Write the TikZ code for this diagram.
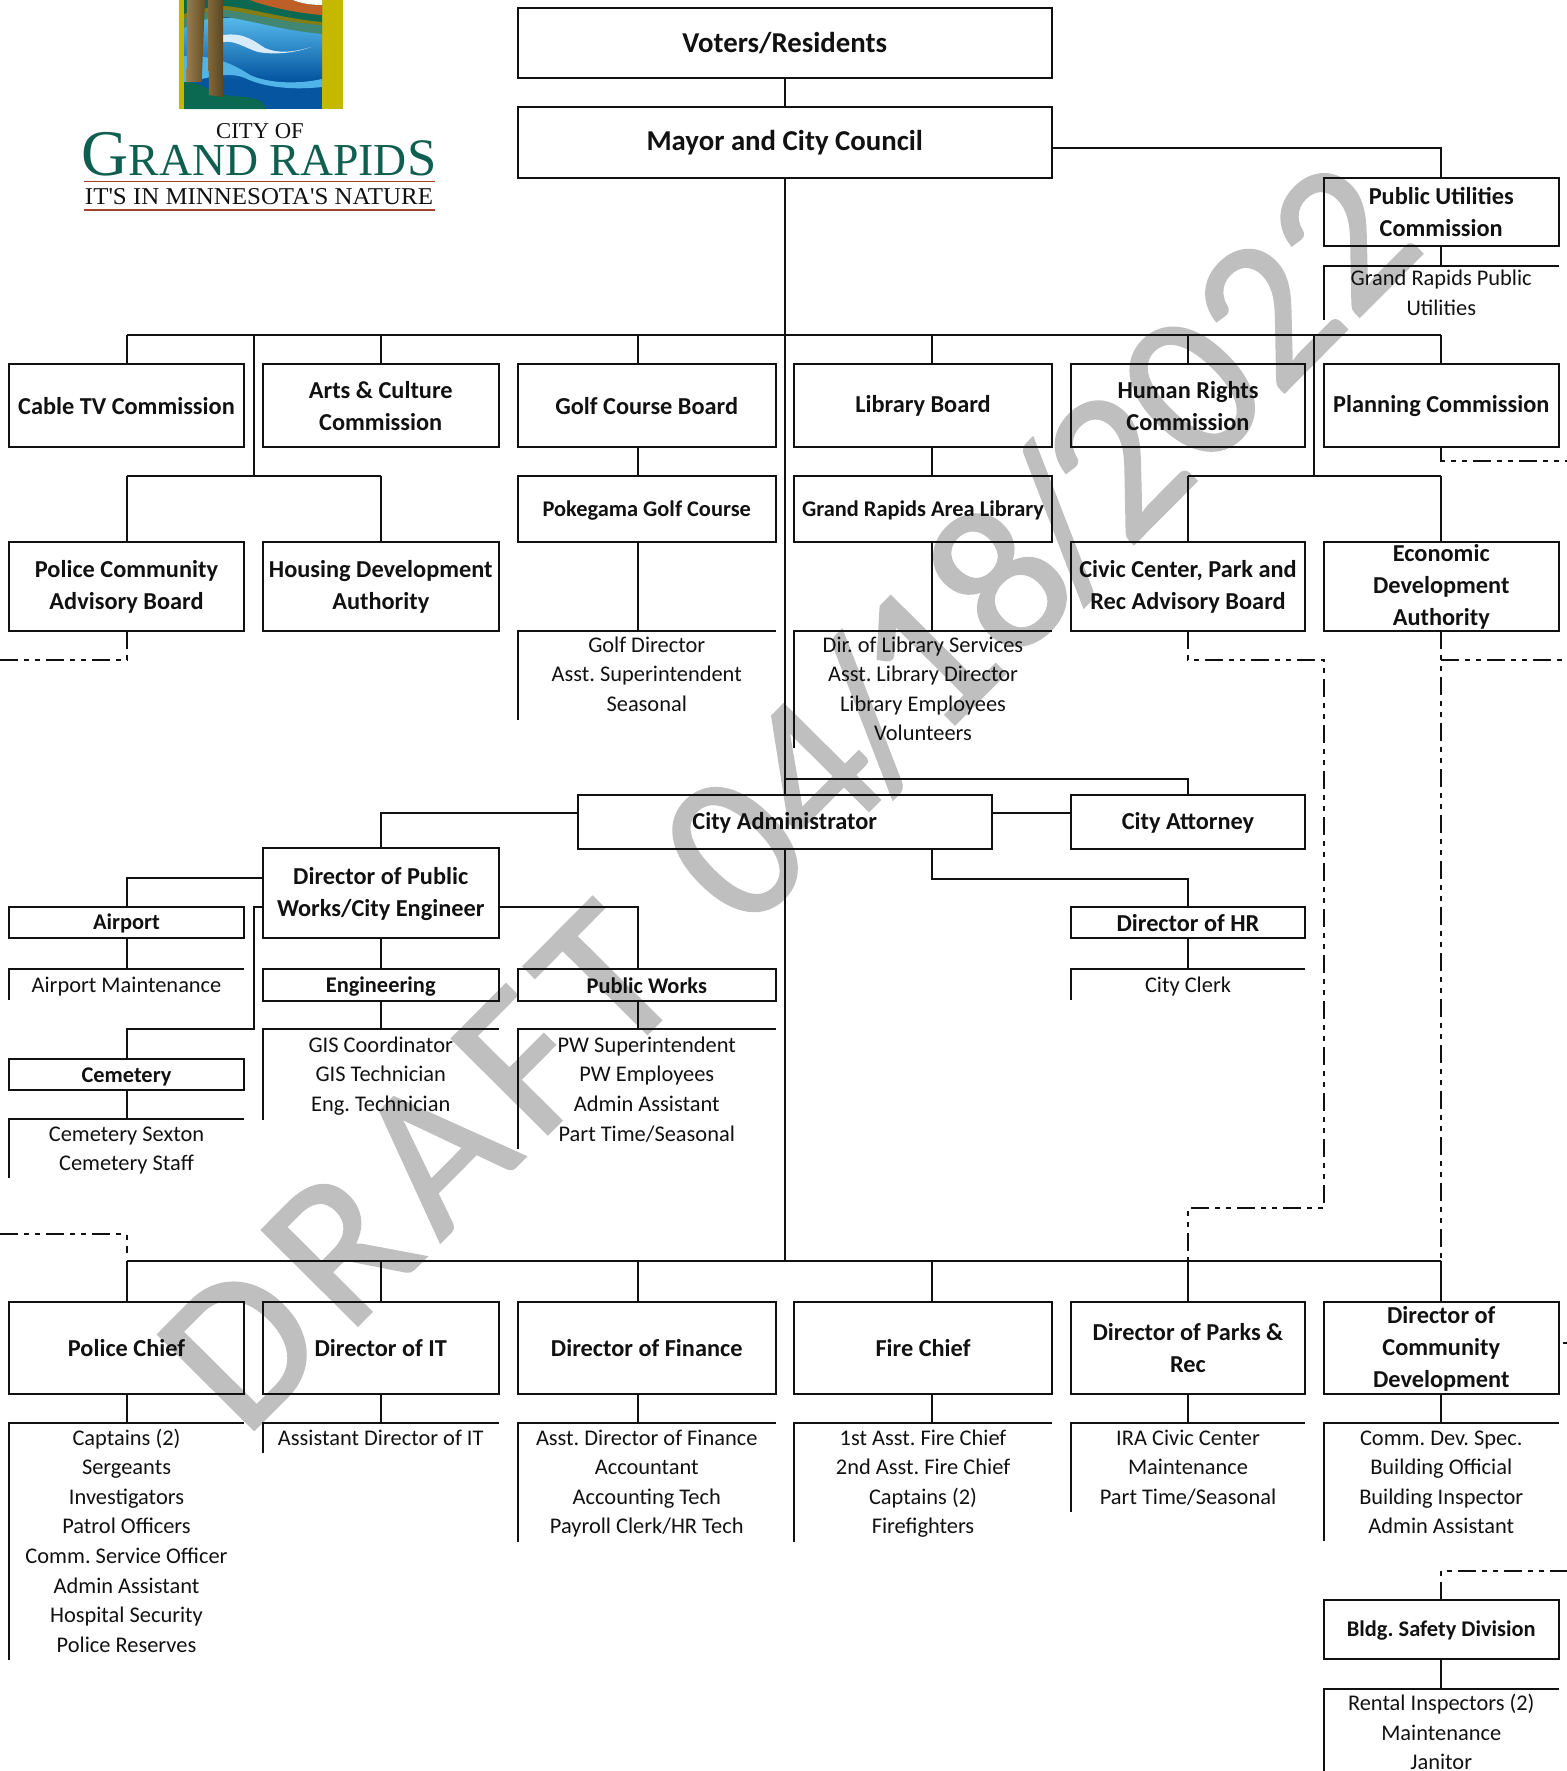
\documentclass[tikz,border=0pt]{standalone}
\usepackage{fontspec}
\usepackage{graphicx}
\setmainfont{Carlito}
\newfontfamily\logofont{Liberation Serif}
\newfontfamily\wmfont[FakeBold=1.2]{Carlito}
\definecolor{wm}{HTML}{BFBFBF}
\definecolor{ink}{HTML}{111111}
\definecolor{logoyel}{HTML}{C4B800}
\definecolor{logogrn}{HTML}{0A6950}
\definecolor{logotxt}{HTML}{0F5F50}
\definecolor{logored}{HTML}{A8402E}
\definecolor{waterhi}{HTML}{55B9EB}
\definecolor{waterlo}{HTML}{0555A0}
\definecolor{wavelt}{HTML}{50B4E8}
\definecolor{olive}{HTML}{827D14}
\definecolor{teal2}{HTML}{418773}
\definecolor{rust}{HTML}{BE5F28}
\definecolor{foam}{HTML}{D7EBF8}
\definecolor{barkA}{HTML}{967D50}
\definecolor{barkB}{HTML}{644E23}
\definecolor{barkC}{HTML}{82693C}
\definecolor{barkD}{HTML}{5A461E}
\newcommand{\bstr}{\vrule width 0pt height 14pt depth 1pt\relax}
\newcommand{\obox}[7][]{%
  \pgfmathsetmacro\bxw{(#5-#3)*.75}\pgfmathsetmacro\bxh{(#6-#4)*.75}%
  \node[orgb,minimum width=\bxw pt,minimum height=\bxh pt,#1] (#2) at ({(#3+#5)/2},{(#4+#6)/2}) {\bstr#7\bstr};%
}
\newcommand{\stoff}{21}
\newcommand{\staff}[6]{%
  \pgfmathsetmacro\bxw{(#4-#2)*.75}\pgfmathsetmacro\bxh{(#5-#3)*.75}%
  \node[staffframe,minimum width=\bxw pt,minimum height=\bxh pt] (#1) at ({(#2+#4)/2},{(#3+#5)/2}) {};%
  \draw[conn] (#1.north east) -- (#1.north west) -- (#1.south west);%
  \foreach \l [count=\i from 0] in {#6}{%
    \node[stafftext] (#1-\i) at ({(#2+#4)/2},{#3+\stoff+\i*29.6}) {\l};%
  }%
}
\tikzset{
  orgb/.style={draw=ink,line width=1.5pt,inner sep=0pt,outer sep=0pt,align=center,text=ink,
    font=\fontsize{18.25}{24}\selectfont\bfseries\frenchspacing},
  bigb/.style={font=\fontsize{21.6}{24}\selectfont\bfseries},
  smallb/.style={font=\fontsize{16.8}{24}\selectfont\bfseries\frenchspacing},
  staffframe/.style={inner sep=0pt,outer sep=0pt},
  stafftext/.style={anchor=base,inner sep=0pt,text=ink,font=\fontsize{16.8}{22}\selectfont\frenchspacing},
  conn/.style={draw=ink,line width=1.5pt},
  dashconn/.style={draw=ink,line width=1.5pt,dash pattern=on 13.5pt off 4.5pt on 3.75pt off 4.5pt on 3.75pt off 4.5pt},
}
\begin{document}
\begin{tikzpicture}[x=0.75pt,y=-0.75pt]
\useasboundingbox (0,0) rectangle (1567,1771);
% watermark
\node[rotate=45.2,anchor=base west,inner sep=0pt,text=wm,font=\wmfont\fontsize{158}{158}\selectfont] (draft) at (244,1440) {D\kern12.75pt R\kern12.75pt A\kern12.75pt F\kern12.75pt T\kern23pt\ 04\kern-9pt/\kern-9pt 18\kern-9pt/\kern-9pt 2022};
% logo
\fill[logoyel] (179,0) rectangle (343,109);
\fill[waterlo] (184,0) rectangle (322,109);
\shade[top color=waterhi,bottom color=waterlo] (184,18) rectangle (322,80);
\fill[logogrn] (184,0) -- (322,0) -- (322,23) .. controls (280,18) and (250,8) .. (225,7) .. controls (210,7) and (195,10) .. (184,14) -- cycle;
\fill[olive] (184,14) .. controls (195,10) and (210,7) .. (225,6) .. controls (250,8) and (280,18) .. (322,22) -- (322,26) .. controls (280,22) and (250,13) .. (225,11) .. controls (210,11) and (195,14) .. (184,19) -- cycle;
\fill[teal2] (184,19) .. controls (195,14) and (210,11) .. (225,10) .. controls (250,13) and (280,22) .. (322,25) -- (322,34) .. controls (280,30) and (250,20) .. (225,17) .. controls (210,17) and (195,22) .. (184,28) -- cycle;
\fill[rust] (250,0) .. controls (265,6) and (295,13) .. (322,15) -- (322,5) .. controls (310,5) and (300,3) .. (293,0) -- cycle;
\fill[white] (293,0) .. controls (300,3) and (310,5) .. (322,5) -- (322,0) -- cycle;
\fill[foam] (223,35) .. controls (245,32) and (255,42) .. (265,48) .. controls (278,54) and (295,52) .. (311,47) .. controls (295,53) and (275,55) .. (258,52) .. controls (245,48) and (235,40) .. (223,42) -- cycle;
\fill[wavelt] (184,56) .. controls (215,55) and (235,65) .. (250,75) .. controls (270,84) and (300,84) .. (322,79) -- (322,87) .. controls (295,90) and (265,88) .. (245,78) .. controls (225,70) and (205,80) .. (184,82) -- cycle;
\fill[logogrn] (184,82) .. controls (195,82) and (205,86) .. (212,92) .. controls (225,98) and (250,94) .. (262,102) -- (267,109) -- (184,109) -- cycle;
\shade[left color=barkA,right color=barkB] (187,0) -- (205,0) -- (201.7,82) -- (186.7,82) -- cycle;
\shade[left color=barkC,right color=barkD] (208,0) -- (223,0) -- (223,97) -- (209,95) -- cycle;
\node[anchor=base,inner sep=0pt,text=ink,font=\logofont\fontsize{17}{17}\selectfont] (logocity) at (260,138) {CITY OF};
\node[anchor=base,inner sep=0pt,text=logotxt,font=\logofont] (logogr) at (259,175) {\resizebox{266pt}{!}{\fontsize{47}{47}\selectfont G\fontsize{33}{33}\selectfont RAND RAPID\fontsize{38}{38}\selectfont S}};
\node[anchor=base,inner sep=0pt,text=ink,font=\logofont] (logotag) at (259,204) {\resizebox{261pt}{12pt}{\fontsize{17}{17}\selectfont IT'S IN MINNESOTA'S NATURE}};
\draw[logored,line width=1pt] (84,181.5) -- (435,181.5) (84,210) -- (435,210);
% junction coordinates
\coordinate (x1) at (126.5,0); \coordinate (x2) at (380.75,0); \coordinate (x3) at (638,0);
\coordinate (x0) at (784.75,0); \coordinate (x4) at (932,0); \coordinate (x5) at (1188,0);
\coordinate (x6) at (1441.25,0); \coordinate (xl) at (254,0); \coordinate (xr) at (1314,0); \coordinate (xd) at (1324,0); \coordinate (xe) at (1567,0); \coordinate (xs) at (0,0);
\coordinate (busTop) at (0,335); \coordinate (busMid) at (0,476); \coordinate (busBot) at (0,1261);
\coordinate (yPuc) at (0,148); \coordinate (yAtt) at (0,778.5); \coordinate (yAdm) at (0,813);
\coordinate (yAir) at (0,877.7); \coordinate (yHr) at (0,879); \coordinate (yPw) at (0,906.7); \coordinate (yCem) at (0,1029.3);
\coordinate (yDash) at (0,660); \coordinate (yPlan) at (0,461); \coordinate (yPark) at (0,1208); \coordinate (yPol) at (0,1234); \coordinate (yPolE) at (0,1253); \coordinate (yCd) at (0,1342.7); \coordinate (yBl) at (0,1570.7); \coordinate (xcd) at (1563,0);
% boxes
\obox[bigb]{voters}{517.5}{8}{1052}{78}{Voters/Residents}
\obox[bigb]{mayor}{517.5}{107}{1052}{177.5}{Mayor and City Council}
\obox{puc}{1323.5}{178}{1559}{246}{Public Utilities\\Commission}
\obox{cable}{9}{364}{244}{447}{Cable TV Commission}
\obox{arts}{263}{364}{498.5}{447}{Arts \& Culture\\Commission}
\obox{golf}{518}{364}{775.5}{447}{Golf Course Board}
\obox{lib}{794}{364}{1052}{447}{Library Board}
\obox{hrc}{1071}{364}{1305}{447}{Human Rights\\Commission}
\obox{plan}{1323.5}{364}{1559}{447}{Planning Commission}
\obox[smallb]{poke}{518}{476}{775.5}{542}{Pokegama Golf Course}
\obox[smallb]{grlib}{794}{476}{1052}{542}{Grand Rapids Area Library}
\obox{padv}{9}{542}{244}{631}{Police Community\\Advisory Board}
\obox{hous}{263}{542}{498.5}{631}{Housing Development\\Authority}
\obox{civic}{1071}{542}{1305}{631}{Civic Center, Park and\\Rec Advisory Board}
\obox{econ}{1323.5}{542}{1559}{631}{Economic\\Development\\Authority}
\obox{admin}{577.5}{795}{992}{848.5}{City Administrator}
\obox{atty}{1071}{795}{1305}{848.5}{City Attorney}
\obox{dpw}{263}{848}{498.5}{938}{Director of Public\\Works/City Engineer}
\obox[smallb]{airp}{9}{906.7}{244}{938}{Airport}
\obox[smallb]{eng}{263}{969}{498.5}{1000.5}{Engineering}
\obox[smallb]{pw}{518}{969}{775.5}{1000.5}{Public Works}
\obox{dhr}{1071}{906.7}{1305}{938}{Director of HR}
\obox[smallb]{cem}{9}{1059}{244}{1090}{Cemetery}
\obox{pol}{9}{1302}{244}{1394}{Police Chief}
\obox{dit}{263}{1302}{498.5}{1394}{Director of IT}
\obox{fin}{518}{1302}{775.5}{1394}{Director of Finance}
\obox{fire}{794}{1302}{1052}{1394}{Fire Chief}
\obox{park}{1071}{1302}{1305}{1394}{Director of Parks \&\\Rec}
\obox{cd}{1323.5}{1302}{1559}{1394}{Director of\\Community\\Development}
\obox[smallb]{bldg}{1323.5}{1600}{1559}{1658.7}{Bldg. Safety Division}
% staff lists
\renewcommand{\stoff}{19.5}
\staff{sPuc}{1323.5}{266}{1559}{320}{Grand Rapids Public,Utilities}
\renewcommand{\stoff}{21}
\staff{sGolf}{518}{631}{775.5}{720}{Golf Director,Asst. Superintendent,Seasonal}
\staff{sLib}{794}{631}{1052}{748}{Dir. of Library Services,Asst. Library Director,Library Employees,Volunteers}
\renewcommand{\stoff}{23}
\staff{sAir}{9}{969}{244}{1000}{Airport Maintenance}
\staff{sHr}{1071}{969}{1305}{1000}{City Clerk}
\staff{sEng}{263}{1029.3}{498.5}{1120}{GIS Coordinator,GIS Technician,Eng. Technician}
\staff{sPw}{518}{1029.3}{775.5}{1149}{PW Superintendent,PW Employees,Admin Assistant,Part Time/Seasonal}
\renewcommand{\stoff}{22}
\staff{sCem}{9}{1119.3}{244}{1178}{Cemetery Sexton,Cemetery Staff}
\staff{sPol}{9}{1423}{244}{1660}{Captains (2),Sergeants,Investigators,Patrol Officers,Comm. Service Officer,Admin Assistant,Hospital Security,Police Reserves}
\staff{sIt}{263}{1423}{498.5}{1453}{Assistant Director of IT}
\staff{sFin}{518}{1423}{775.5}{1542}{Asst. Director of Finance,Accountant,Accounting Tech,Payroll Clerk/HR Tech}
\staff{sFire}{794}{1423}{1052}{1542}{1st Asst. Fire Chief,2nd Asst. Fire Chief,Captains (2),Firefighters}
\staff{sPark}{1071}{1423}{1305}{1512}{IRA Civic Center,Maintenance,Part Time/Seasonal}
\staff{sCd}{1323.5}{1423}{1559}{1541}{Comm. Dev. Spec.,Building Official,Building Inspector,Admin Assistant}
\staff{sBl}{1323.5}{1688.7}{1559}{1771}{Rental Inspectors (2),Maintenance,Janitor}
% connectors: top
\draw[conn] (voters.south) -- (mayor.north);
\draw[conn] (mayor.south) -- (admin.north);
\draw[conn] (admin.south) -- (x0 |- busBot);
\draw[conn] (mayor.east |- yPuc) -| (puc.north);
\draw[conn] (puc.south) -- (sPuc.north);
\draw[conn] (x1 |- busTop) -- (x6 |- busTop);
\draw[conn] (x1 |- busTop) -- (cable.north);
\draw[conn] (x2 |- busTop) -- (arts.north);
\draw[conn] (x3 |- busTop) -- (x3 |- golf.north);
\draw[conn] (x4 |- busTop) -- (x4 |- lib.north);
\draw[conn] (x5 |- busTop) -- (hrc.north);
\draw[conn] (x6 |- busTop) -- (plan.north);
\draw[conn] (xl |- busTop) -- (xl |- busMid);
\draw[conn] (xr |- busTop) -- (xr |- busMid);
\draw[conn] (x1 |- busMid) -- (x2 |- busMid);
\draw[conn] (x5 |- busMid) -- (x6 |- busMid);
\draw[conn] (x1 |- busMid) -- (padv.north);
\draw[conn] (x2 |- busMid) -- (hous.north);
\draw[conn] (x5 |- busMid) -- (civic.north);
\draw[conn] (x6 |- busMid) -- (econ.north);
\draw[conn] (x3 |- golf.south) -- (x3 |- poke.north);
\draw[conn] (x3 |- poke.south) -- (x3 |- sGolf.north);
\draw[conn] (x4 |- lib.south) -- (x4 |- grlib.north);
\draw[conn] (x4 |- grlib.south) -- (x4 |- sLib.north);
% connectors: administrator
\draw[conn] (x0 |- yAtt) -| (atty.north);
\draw[conn] (admin.east |- yAdm) -- (atty.west |- yAdm);
\draw[conn] (admin.west |- yAdm) -| (dpw.north);
\draw[conn] (x4 |- admin.south) |- (x5 |- yHr) -- (dhr.north);
\draw[conn] (dhr.south) -- (sHr.north);
\draw[conn] (dpw.west |- yAir) -| (airp.north);
\draw[conn] (airp.south) -- (sAir.north);
\draw[conn] (dpw.south) -- (eng.north);
\draw[conn] (eng.south) -- (sEng.north);
\draw[conn] (dpw.east |- yPw) -| (x3 |- pw.north);
\draw[conn] (x3 |- pw.south) -- (x3 |- sPw.north);
\draw[conn] (dpw.west |- yPw) -- (xl |- yPw) -- (xl |- yCem) -- (x1 |- yCem) -- (cem.north);
\draw[conn] (cem.south) -- (sCem.north);
% connectors: bottom
\draw[conn] (x1 |- busBot) -- (x6 |- busBot);
\draw[conn] (x1 |- busBot) -- (pol.north);
\draw[conn] (x2 |- busBot) -- (dit.north);
\draw[conn] (x3 |- busBot) -- (x3 |- fin.north);
\draw[conn] (x4 |- busBot) -- (x4 |- fire.north);
\draw[conn] (x5 |- busBot) -- (park.north);
\draw[conn] (x6 |- busBot) -- (cd.north);
\draw[conn] (pol.south) -- (sPol.north);
\draw[conn] (dit.south) -- (sIt.north);
\draw[conn] (x3 |- fin.south) -- (x3 |- sFin.north);
\draw[conn] (x4 |- fire.south) -- (x4 |- sFire.north);
\draw[conn] (park.south) -- (sPark.north);
\draw[conn] (cd.south) -- (sCd.north);
\draw[conn] (bldg.south) -- (sBl.north);
% dashed relations
\draw[dashconn] (plan.south) |- (xe |- yPlan);
\draw[dashconn] (padv.south) |- (xs |- yDash);
\draw[dashconn] (civic.south) |- (xd |- yDash) -- (xd |- yPark) -- (x5 |- yPark) -- (x5 |- busBot);
\draw[dashconn] (econ.south) -- (x6 |- busBot);
\draw[dashconn] (x6 |- yDash) -- (xe |- yDash);
\draw[dashconn] (xs |- yPol) -| (x1 |- yPolE);
\draw[dashconn] (bldg.north) |- (xe |- yBl);
\draw[conn] (xcd |- yCd) -- (xe |- yCd);
\end{tikzpicture}
\end{document}
